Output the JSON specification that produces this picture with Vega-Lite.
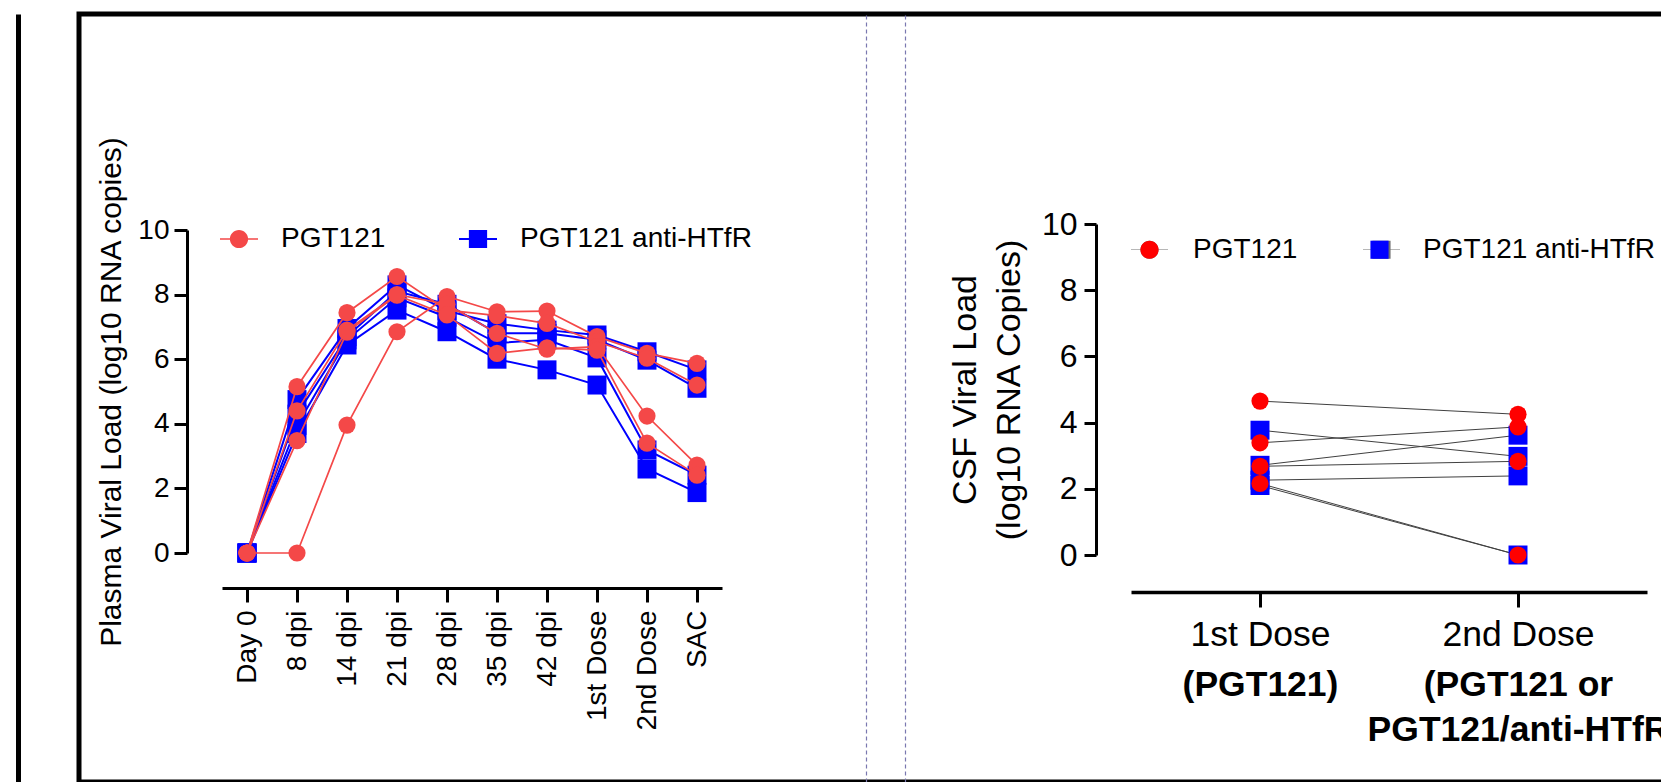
{
  "$schema": "https://vega.github.io/schema/vega-lite/v6.json",
  "autosize": {"type": "none"},
  "padding": {"left": 79, "top": 14, "right": -20, "bottom": 0},
  "width": 1602,
  "height": 768,
  "config": {
    "font": "Liberation Sans",
    "view": {"stroke": "#000000", "strokeWidth": 5},
    "axis": {"grid": false, "labelLimit": 0, "domainColor": "#000000", "tickColor": "#000000", "labelColor": "#000000", "titleColor": "#000000", "titleFontWeight": "normal", "labelFont": "Liberation Sans", "titleFont": "Liberation Sans"},
    "legend": {"labelFont": "Liberation Sans", "labelColor": "#000000", "labelLimit": 0}
  },
  "datasets": {
    "plasma": [
      {"animal": "R1", "group": "PGT121", "time": "Day 0", "vl": 0},
      {"animal": "R1", "group": "PGT121", "time": "8 dpi", "vl": 0},
      {"animal": "R1", "group": "PGT121", "time": "14 dpi", "vl": 3.96},
      {"animal": "R1", "group": "PGT121", "time": "21 dpi", "vl": 6.85},
      {"animal": "R1", "group": "PGT121", "time": "28 dpi", "vl": 7.94},
      {"animal": "R1", "group": "PGT121", "time": "35 dpi", "vl": 7.47},
      {"animal": "R1", "group": "PGT121", "time": "42 dpi", "vl": 7.49},
      {"animal": "R1", "group": "PGT121", "time": "1st Dose", "vl": 6.7},
      {"animal": "R1", "group": "PGT121", "time": "2nd Dose", "vl": 6.18},
      {"animal": "R1", "group": "PGT121", "time": "SAC", "vl": 5.87},
      {"animal": "R2", "group": "PGT121", "time": "Day 0", "vl": 0},
      {"animal": "R2", "group": "PGT121", "time": "8 dpi", "vl": 5.15},
      {"animal": "R2", "group": "PGT121", "time": "14 dpi", "vl": 7.44},
      {"animal": "R2", "group": "PGT121", "time": "21 dpi", "vl": 8.56},
      {"animal": "R2", "group": "PGT121", "time": "28 dpi", "vl": 7.52},
      {"animal": "R2", "group": "PGT121", "time": "35 dpi", "vl": 7.35},
      {"animal": "R2", "group": "PGT121", "time": "42 dpi", "vl": 7.11},
      {"animal": "R2", "group": "PGT121", "time": "1st Dose", "vl": 6.54},
      {"animal": "R2", "group": "PGT121", "time": "2nd Dose", "vl": 6.03},
      {"animal": "R2", "group": "PGT121", "time": "SAC", "vl": 5.2},
      {"animal": "R3", "group": "PGT121", "time": "Day 0", "vl": 0},
      {"animal": "R3", "group": "PGT121", "time": "8 dpi", "vl": 4.4},
      {"animal": "R3", "group": "PGT121", "time": "14 dpi", "vl": 6.9},
      {"animal": "R3", "group": "PGT121", "time": "21 dpi", "vl": 8.0},
      {"animal": "R3", "group": "PGT121", "time": "28 dpi", "vl": 7.7},
      {"animal": "R3", "group": "PGT121", "time": "35 dpi", "vl": 6.8},
      {"animal": "R3", "group": "PGT121", "time": "42 dpi", "vl": 6.31},
      {"animal": "R3", "group": "PGT121", "time": "1st Dose", "vl": 6.39},
      {"animal": "R3", "group": "PGT121", "time": "2nd Dose", "vl": 4.24},
      {"animal": "R3", "group": "PGT121", "time": "SAC", "vl": 2.72},
      {"animal": "R4", "group": "PGT121", "time": "Day 0", "vl": 0},
      {"animal": "R4", "group": "PGT121", "time": "8 dpi", "vl": 3.48},
      {"animal": "R4", "group": "PGT121", "time": "14 dpi", "vl": 6.84},
      {"animal": "R4", "group": "PGT121", "time": "21 dpi", "vl": 7.98},
      {"animal": "R4", "group": "PGT121", "time": "28 dpi", "vl": 7.37},
      {"animal": "R4", "group": "PGT121", "time": "35 dpi", "vl": 6.18},
      {"animal": "R4", "group": "PGT121", "time": "42 dpi", "vl": 6.35},
      {"animal": "R4", "group": "PGT121", "time": "1st Dose", "vl": 6.28},
      {"animal": "R4", "group": "PGT121", "time": "2nd Dose", "vl": 3.4},
      {"animal": "R4", "group": "PGT121", "time": "SAC", "vl": 2.41},
      {"animal": "B1", "group": "PGT121 anti-HTfR", "time": "Day 0", "vl": 0},
      {"animal": "B1", "group": "PGT121 anti-HTfR", "time": "8 dpi", "vl": 4.75},
      {"animal": "B1", "group": "PGT121 anti-HTfR", "time": "14 dpi", "vl": 6.95},
      {"animal": "B1", "group": "PGT121 anti-HTfR", "time": "21 dpi", "vl": 8.3},
      {"animal": "B1", "group": "PGT121 anti-HTfR", "time": "28 dpi", "vl": 7.5},
      {"animal": "B1", "group": "PGT121 anti-HTfR", "time": "35 dpi", "vl": 7.1},
      {"animal": "B1", "group": "PGT121 anti-HTfR", "time": "42 dpi", "vl": 6.9},
      {"animal": "B1", "group": "PGT121 anti-HTfR", "time": "1st Dose", "vl": 6.75},
      {"animal": "B1", "group": "PGT121 anti-HTfR", "time": "2nd Dose", "vl": 6.23},
      {"animal": "B1", "group": "PGT121 anti-HTfR", "time": "SAC", "vl": 5.67},
      {"animal": "B2", "group": "PGT121 anti-HTfR", "time": "Day 0", "vl": 0},
      {"animal": "B2", "group": "PGT121 anti-HTfR", "time": "8 dpi", "vl": 4.3},
      {"animal": "B2", "group": "PGT121 anti-HTfR", "time": "14 dpi", "vl": 6.7},
      {"animal": "B2", "group": "PGT121 anti-HTfR", "time": "21 dpi", "vl": 8.1},
      {"animal": "B2", "group": "PGT121 anti-HTfR", "time": "28 dpi", "vl": 7.7},
      {"animal": "B2", "group": "PGT121 anti-HTfR", "time": "35 dpi", "vl": 6.8},
      {"animal": "B2", "group": "PGT121 anti-HTfR", "time": "42 dpi", "vl": 6.8},
      {"animal": "B2", "group": "PGT121 anti-HTfR", "time": "1st Dose", "vl": 6.6},
      {"animal": "B2", "group": "PGT121 anti-HTfR", "time": "2nd Dose", "vl": 5.97},
      {"animal": "B2", "group": "PGT121 anti-HTfR", "time": "SAC", "vl": 5.1},
      {"animal": "B3", "group": "PGT121 anti-HTfR", "time": "Day 0", "vl": 0},
      {"animal": "B3", "group": "PGT121 anti-HTfR", "time": "8 dpi", "vl": 3.95},
      {"animal": "B3", "group": "PGT121 anti-HTfR", "time": "14 dpi", "vl": 6.6},
      {"animal": "B3", "group": "PGT121 anti-HTfR", "time": "21 dpi", "vl": 7.9},
      {"animal": "B3", "group": "PGT121 anti-HTfR", "time": "28 dpi", "vl": 7.3},
      {"animal": "B3", "group": "PGT121 anti-HTfR", "time": "35 dpi", "vl": 6.5},
      {"animal": "B3", "group": "PGT121 anti-HTfR", "time": "42 dpi", "vl": 6.6},
      {"animal": "B3", "group": "PGT121 anti-HTfR", "time": "1st Dose", "vl": 6.04},
      {"animal": "B3", "group": "PGT121 anti-HTfR", "time": "2nd Dose", "vl": 3.19},
      {"animal": "B3", "group": "PGT121 anti-HTfR", "time": "SAC", "vl": 2.41},
      {"animal": "B4", "group": "PGT121 anti-HTfR", "time": "Day 0", "vl": 0},
      {"animal": "B4", "group": "PGT121 anti-HTfR", "time": "8 dpi", "vl": 3.7},
      {"animal": "B4", "group": "PGT121 anti-HTfR", "time": "14 dpi", "vl": 6.44},
      {"animal": "B4", "group": "PGT121 anti-HTfR", "time": "21 dpi", "vl": 7.52},
      {"animal": "B4", "group": "PGT121 anti-HTfR", "time": "28 dpi", "vl": 6.85},
      {"animal": "B4", "group": "PGT121 anti-HTfR", "time": "35 dpi", "vl": 6.0},
      {"animal": "B4", "group": "PGT121 anti-HTfR", "time": "42 dpi", "vl": 5.67},
      {"animal": "B4", "group": "PGT121 anti-HTfR", "time": "1st Dose", "vl": 5.2},
      {"animal": "B4", "group": "PGT121 anti-HTfR", "time": "2nd Dose", "vl": 2.6},
      {"animal": "B4", "group": "PGT121 anti-HTfR", "time": "SAC", "vl": 1.87}
    ],
    "csf": [
      {"animal": "C1", "group": "PGT121", "dose": "1st Dose", "vl": 4.65},
      {"animal": "C1", "group": "PGT121", "dose": "2nd Dose", "vl": 4.25},
      {"animal": "C2", "group": "PGT121", "dose": "1st Dose", "vl": 3.39},
      {"animal": "C2", "group": "PGT121", "dose": "2nd Dose", "vl": 3.87},
      {"animal": "C3", "group": "PGT121", "dose": "1st Dose", "vl": 2.68},
      {"animal": "C3", "group": "PGT121", "dose": "2nd Dose", "vl": 2.83},
      {"animal": "C4", "group": "PGT121", "dose": "1st Dose", "vl": 2.16},
      {"animal": "C4", "group": "PGT121", "dose": "2nd Dose", "vl": 0},
      {"animal": "C5", "group": "PGT121 anti-HTfR", "dose": "1st Dose", "vl": 3.77},
      {"animal": "C5", "group": "PGT121 anti-HTfR", "dose": "2nd Dose", "vl": 2.98},
      {"animal": "C6", "group": "PGT121 anti-HTfR", "dose": "1st Dose", "vl": 2.71},
      {"animal": "C6", "group": "PGT121 anti-HTfR", "dose": "2nd Dose", "vl": 3.62},
      {"animal": "C7", "group": "PGT121 anti-HTfR", "dose": "1st Dose", "vl": 2.26},
      {"animal": "C7", "group": "PGT121 anti-HTfR", "dose": "2nd Dose", "vl": 2.39},
      {"animal": "C8", "group": "PGT121 anti-HTfR", "dose": "1st Dose", "vl": 2.1},
      {"animal": "C8", "group": "PGT121 anti-HTfR", "dose": "2nd Dose", "vl": 0}
    ]
  },
  "layer": [
    {
      "data": {"name": "plasma"},
      "layer": [
        {
          "transform": [{"filter": "datum.group === 'PGT121 anti-HTfR'"}],
          "mark": {"type": "line", "color": "#0000FF", "strokeWidth": 2},
          "encoding": {
            "x": {"field": "time", "type": "ordinal", "sort": ["Day 0", "8 dpi", "14 dpi", "21 dpi", "28 dpi", "35 dpi", "42 dpi", "1st Dose", "2nd Dose", "SAC"],
              "scale": {"type": "point", "domain": ["Day 0", "8 dpi", "14 dpi", "21 dpi", "28 dpi", "35 dpi", "42 dpi", "1st Dose", "2nd Dose", "SAC"], "range": [143, 643], "padding": 0.5},
              "axis": {"orient": "bottom", "offset": -194, "title": null, "labelAngle": -90, "labelFontSize": 28, "labelPadding": 8, "tickSize": 14, "tickWidth": 3, "domainWidth": 3}},
            "y": {"field": "vl", "type": "quantitative",
              "scale": {"domain": [0, 10], "range": [539, 216], "nice": false, "zero": false},
              "axis": {"orient": "left", "offset": -108, "values": [0, 2, 4, 6, 8, 10], "format": "d", "title": "Plasma Viral Load (log10 RNA copies)", "titleFontSize": 30, "titlePadding": 11, "labelFontSize": 28, "labelPadding": 5, "tickSize": 13, "tickWidth": 3, "domainWidth": 3}},
            "detail": {"field": "animal"}
          }
        },
        {
          "transform": [{"filter": "datum.group === 'PGT121 anti-HTfR'"}],
          "mark": {"type": "point", "shape": "square", "filled": true, "size": 360, "opacity": 1, "color": "#0000FF"},
          "encoding": {
            "x": {"field": "time", "type": "ordinal", "sort": ["Day 0", "8 dpi", "14 dpi", "21 dpi", "28 dpi", "35 dpi", "42 dpi", "1st Dose", "2nd Dose", "SAC"]},
            "y": {"field": "vl", "type": "quantitative"}
          }
        },
        {
          "transform": [{"filter": "datum.group === 'PGT121'"}],
          "mark": {"type": "line", "color": "#F44848", "strokeWidth": 1.7},
          "encoding": {
            "x": {"field": "time", "type": "ordinal", "sort": ["Day 0", "8 dpi", "14 dpi", "21 dpi", "28 dpi", "35 dpi", "42 dpi", "1st Dose", "2nd Dose", "SAC"]},
            "y": {"field": "vl", "type": "quantitative"},
            "detail": {"field": "animal"}
          }
        },
        {
          "transform": [{"filter": "datum.group === 'PGT121'"}],
          "mark": {"type": "point", "shape": "circle", "filled": true, "size": 295, "opacity": 1, "color": "#F44848"},
          "encoding": {
            "x": {"field": "time", "type": "ordinal", "sort": ["Day 0", "8 dpi", "14 dpi", "21 dpi", "28 dpi", "35 dpi", "42 dpi", "1st Dose", "2nd Dose", "SAC"]},
            "y": {"field": "vl", "type": "quantitative"}
          }
        },
        {
          "transform": [{"filter": "false"}],
          "mark": {"type": "point", "filled": true, "opacity": 1},
          "encoding": {
            "color": {"field": "group", "type": "nominal",
              "scale": {"domain": ["PGT121", "PGT121 anti-HTfR"], "range": ["#F44848", "#0000FF"]},
              "legend": {"orient": "none", "legendX": 140, "legendY": 205, "direction": "horizontal", "title": null, "padding": 0,
                "labelFontSize": 28, "labelOffset": 22, "columnPadding": 70, "symbolSize": 1444, "symbolOpacity": 1}},
            "shape": {"field": "group", "type": "nominal",
              "scale": {"domain": ["PGT121", "PGT121 anti-HTfR"],
                "range": ["M-1,-0.045H1V0.045H-1ZM-0.48,0A0.48,0.48,0,1,1,0.48,0A0.48,0.48,0,1,1,-0.48,0Z", "M-1,-0.05H1V0.05H-1ZM-0.48,-0.48H0.48V0.48H-0.48Z"]},
              "legend": {"orient": "none", "legendX": 140, "legendY": 205, "direction": "horizontal", "title": null, "padding": 0,
                "labelFontSize": 28, "labelOffset": 22, "columnPadding": 70, "symbolSize": 1444, "symbolOpacity": 1}}
          }
        }
      ]
    },
    {
      "data": {"name": "csf"},
      "layer": [
        {
          "mark": {"type": "line", "color": "#404040", "strokeWidth": 1},
          "encoding": {
            "x": {"field": "dose", "type": "ordinal",
              "scale": {"type": "point", "domain": ["1st Dose", "2nd Dose"], "range": [1052, 1568], "padding": 0.5},
              "axis": {"orient": "bottom", "offset": -190, "title": null, "labelAngle": 0, "labelFontSize": 35.5, "labelPadding": 10, "tickSize": 15, "tickWidth": 3, "domainWidth": 3.5}},
            "y": {"field": "vl", "type": "quantitative",
              "scale": {"domain": [0, 10], "range": [541, 210], "nice": false, "zero": false},
              "axis": {"orient": "left", "offset": -1017, "values": [0, 2, 4, 6, 8, 10], "format": "d", "title": ["CSF Viral Load", "(log10 RNA Copies)"], "titleFontSize": 34, "titleLineHeight": 44, "titlePadding": 15, "labelFontSize": 32, "labelPadding": 7, "tickSize": 12, "tickWidth": 3, "domainWidth": 3}},
            "detail": {"field": "animal"}
          }
        },
        {
          "transform": [{"filter": "datum.group === 'PGT121 anti-HTfR'"}],
          "mark": {"type": "point", "shape": "square", "filled": true, "size": 360, "opacity": 1, "color": "#0000FF"},
          "encoding": {
            "x": {"field": "dose", "type": "ordinal"},
            "y": {"field": "vl", "type": "quantitative"}
          }
        },
        {
          "transform": [{"filter": "datum.group === 'PGT121'"}],
          "mark": {"type": "point", "shape": "circle", "filled": true, "size": 295, "opacity": 1, "color": "#FF0000"},
          "encoding": {
            "x": {"field": "dose", "type": "ordinal"},
            "y": {"field": "vl", "type": "quantitative"}
          }
        },
        {
          "transform": [{"filter": "false"}],
          "mark": {"type": "point", "filled": true, "opacity": 1},
          "encoding": {
            "color": {"field": "group", "type": "nominal",
              "scale": {"domain": ["PGT121", "PGT121 anti-HTfR"], "range": ["#FF0000", "#0000FF"]},
              "legend": {"orient": "none", "legendX": 1051, "legendY": 216, "direction": "horizontal", "title": null, "padding": 0, "zindex": 2,
                "labelFontSize": 28, "labelOffset": 24, "columnPadding": 62, "symbolSize": 1369, "symbolOpacity": 1}},
            "shape": {"field": "group", "type": "nominal",
              "scale": {"domain": ["PGT121", "PGT121 anti-HTfR"],
                "range": ["M-0.49,0A0.49,0.49,0,1,1,0.49,0A0.49,0.49,0,1,1,-0.49,0Z", "M-0.49,-0.49H0.49V0.49H-0.49Z"]},
              "legend": {"orient": "none", "legendX": 1051, "legendY": 216, "direction": "horizontal", "title": null, "padding": 0, "zindex": 2,
                "labelFontSize": 28, "labelOffset": 24, "columnPadding": 62, "symbolSize": 1369, "symbolOpacity": 1}}
          }
        }
      ]
    },
    {
      "data": {"name": "csf"},
      "transform": [{"filter": "false"}],
      "mark": {"type": "point", "filled": true, "opacity": 1},
      "encoding": {
        "color": {"field": "group", "type": "nominal",
          "scale": {"domain": ["PGT121", "PGT121 anti-HTfR"], "range": ["#707070", "#707070"]},
          "legend": {"orient": "none", "legendX": 1051, "legendY": 216, "direction": "horizontal", "title": null, "padding": 0, "zindex": 1,
            "labelFontSize": 28, "labelOffset": 24, "columnPadding": 62, "symbolSize": 1369, "symbolOpacity": 1, "labelOpacity": 0}},
        "shape": {"field": "group", "type": "nominal",
          "scale": {"domain": ["PGT121", "PGT121 anti-HTfR"],
            "range": ["M-1,-0.016H1V0.016H-1ZM-0.49,0A0.49,0.49,0,1,1,0.49,0A0.49,0.49,0,1,1,-0.49,0Z", "M-1,-0.016H1V0.016H-1ZM-0.49,-0.49H0.49V0.49H-0.49Z"]},
          "legend": {"orient": "none", "legendX": 1051, "legendY": 216, "direction": "horizontal", "title": null, "padding": 0, "zindex": 1,
            "labelFontSize": 28, "labelOffset": 24, "columnPadding": 62, "symbolSize": 1369, "symbolOpacity": 1, "labelOpacity": 0}}
      }
    },
    {
      "data": {"name": "csf"},
      "mark": {"type": "point", "opacity": 0},
      "encoding": {
        "x": {"field": "dose", "type": "ordinal",
          "scale": {"type": "point", "domain": ["1st Dose", "2nd Dose"], "range": [1052, 1568], "padding": 0.5},
          "axis": {"orient": "bottom", "offset": -190, "title": null, "labelAngle": 0, "domain": false, "tickOpacity": 0, "tickSize": 15, "labelPadding": 60, "labelFontSize": 35.5, "labelFontWeight": "bold", "labelLineHeight": 45,
            "labelExpr": "datum.value === '1st Dose' ? '(PGT121)' : ['(PGT121 or', 'PGT121/anti-HTfR']"}},
        "y": {"field": "vl", "type": "quantitative", "axis": null}
      }
    },
    {
      "data": {"name": "csf"},
      "mark": {"type": "point", "opacity": 0},
      "encoding": {
        "y": {"field": "vl", "type": "quantitative", "axis": {"orient": "left", "offset": 61, "labels": false, "ticks": false, "title": null, "domainColor": "#000000", "domainWidth": 5}}
      }
    },
    {
      "data": {"name": "csf"},
      "mark": {"type": "point", "opacity": 0},
      "encoding": {
        "y": {"field": "vl", "type": "quantitative", "axis": {"orient": "left", "offset": -787, "labels": false, "ticks": false, "title": null, "domainColor": "#7a78b0", "domainWidth": 1.2, "domainDash": [4, 3]}}
      }
    },
    {
      "data": {"name": "csf"},
      "mark": {"type": "point", "opacity": 0},
      "encoding": {
        "y": {"field": "vl", "type": "quantitative", "axis": {"orient": "left", "offset": -826, "labels": false, "ticks": false, "title": null, "domainColor": "#7a78b0", "domainWidth": 1.2, "domainDash": [4, 3]}}
      }
    }
  ],
  "resolve": {
    "scale": {"x": "independent", "y": "independent", "color": "independent", "shape": "independent"},
    "axis": {"x": "independent", "y": "independent"},
    "legend": {"color": "independent", "shape": "independent"}
  }
}
